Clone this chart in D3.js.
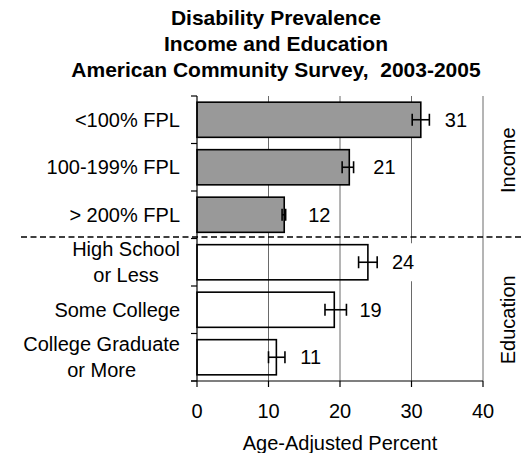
<!DOCTYPE html>
<html>
<head>
<meta charset="utf-8">
<script src="https://cdn.jsdelivr.net/npm/d3@7"></script>
<style>
  html, body { margin: 0; padding: 0; background: #fff; }
  svg { display: block; font-family: "Liberation Sans", Arial, sans-serif; }
</style>
</head>
<body>
<svg id="chart" width="521" height="453"></svg>
<script>
// ---- data ----
const titleLines = ["Disability Prevalence", "Income and Education", "American Community Survey,  2003-2005"];
const categories = ["<100% FPL", "100-199% FPL", "> 200% FPL", "High School\nor Less", "Some College", "College Graduate\nor More"];
const groups = ["Income", "Income", "Income", "Education", "Education", "Education"];
const groupNames = ["Income", "Education"];
const values = [31.3, 21.3, 12.2, 23.9, 19.2, 11.1];
const lowerCI = [30.1, 20.3, 11.9, 22.6, 17.9, 10.0];
const upperCI = [32.5, 21.9, 12.4, 25.2, 20.9, 12.3];
const valueLabels = ["31", "21", "12", "24", "19", "11"];
const xTicks = [0, 10, 20, 30, 40];
const xTitle = "Age-Adjusted Percent";

// ---- layout ----
const svg = d3.select("#chart");
const W = 521, H = 453;
const plot = { left: 197, right: 483, top: 96, bottom: 381 };

const x = d3.scaleLinear().domain([0, 40]).range([plot.left, plot.right]);
const y = d3.scaleBand().domain(categories).range([plot.top, plot.bottom])
  .paddingInner(0.26).paddingOuter(0.13);
const step = y.step();
const bandTop = c => y(c) - step * y.paddingInner() / 2;

const fillFor = { Income: "#999999", Education: "none" };
const groupLabelShift = { Income: -7, Education: 10 };

// title
svg.append("g").selectAll("text").data(titleLines).join("text")
  .attr("x", 276).attr("y", (d, i) => 25 + i * 26)
  .attr("text-anchor", "middle")
  .style("font-weight", "bold").style("font-size", "21px")
  .style("white-space", "pre")
  .text(d => d);

// gridlines
svg.append("g").selectAll("line").data(xTicks.filter(t => t > 0)).join("line")
  .attr("x1", d => x(d)).attr("x2", d => x(d))
  .attr("y1", plot.top).attr("y2", plot.bottom)
  .attr("stroke", "#6a6a6a").attr("stroke-width", 1);

// bars
const data = categories.map((c, i) => ({ c, g: groups[i], v: values[i], lo: lowerCI[i], hi: upperCI[i], lab: valueLabels[i] }));
svg.append("g").selectAll("rect").data(data).join("rect")
  .attr("x", x(0)).attr("y", d => y(d.c))
  .attr("width", d => x(d.v) - x(0)).attr("height", y.bandwidth())
  .attr("fill", d => fillFor[d.g])
  .attr("stroke", "#000").attr("stroke-width", 1.6);

// error bars
const eb = svg.append("g").attr("stroke", "#000").attr("stroke-width", 1.6);
data.forEach(d => {
  const cy = y(d.c) + y.bandwidth() / 2;
  eb.append("line").attr("x1", x(d.lo)).attr("x2", x(d.hi)).attr("y1", cy).attr("y2", cy);
  [d.lo, d.hi].forEach(v => eb.append("line").attr("x1", x(v)).attr("x2", x(v)).attr("y1", cy - 6).attr("y2", cy + 6));
});

// value labels with white boxes
const lg = svg.append("g");
data.forEach(d => {
  const cy = y(d.c) + y.bandwidth() / 2;
  const lx = Math.max(x(d.v) + 24, x(d.hi) + 13);
  const t = lg.append("text").attr("x", lx).attr("y", cy).attr("dy", "0.35em")
    .style("font-size", "20px").text(d.lab);
  const w = t.node().getComputedTextLength();
  lg.insert("rect", "text").attr("x", lx - 5).attr("y", cy - 19).attr("width", w + 10).attr("height", 38).attr("fill", "#fff");
});
lg.selectAll("text").raise();

// left axis
const ax = svg.append("g");
ax.append("line").attr("x1", plot.left).attr("x2", plot.left).attr("y1", plot.top).attr("y2", plot.bottom)
  .attr("stroke", "#000").attr("stroke-width", 1.2);
const bounds = categories.map(bandTop).concat([plot.bottom]);
ax.selectAll(".yt").data(bounds).join("line").attr("class", "yt")
  .attr("x1", plot.left - 6).attr("x2", plot.left).attr("y1", d => d).attr("y2", d => d)
  .attr("stroke", "#000").attr("stroke-width", 1.2);

// bottom axis
ax.append("line").attr("x1", plot.left - 6).attr("x2", plot.right).attr("y1", plot.bottom).attr("y2", plot.bottom)
  .attr("stroke", "#000").attr("stroke-width", 1.2);
ax.selectAll(".xt").data(xTicks).join("line").attr("class", "xt")
  .attr("x1", d => x(d)).attr("x2", d => x(d)).attr("y1", plot.bottom).attr("y2", plot.bottom + 6)
  .attr("stroke", "#000").attr("stroke-width", 1.2);
ax.selectAll(".xl").data(xTicks).join("text").attr("class", "xl")
  .attr("x", d => x(d)).attr("y", 418).attr("text-anchor", "middle")
  .style("font-size", "20px").text(d => d);
svg.append("text").attr("x", (plot.left + plot.right) / 2).attr("y", 450)
  .attr("text-anchor", "middle").style("font-size", "20px").text(xTitle);

// category labels
categories.forEach(c => {
  const lines = c.split("\n");
  const cy = y(c) + y.bandwidth() / 2;
  const g = svg.append("g");
  const ts = lines.map((l, i) => g.append("text")
    .attr("y", cy + (i - (lines.length - 1) / 2) * 26).attr("dy", "0.35em")
    .style("font-size", "20px").text(l));
  const maxW = d3.max(ts, t => t.node().getComputedTextLength());
  ts.forEach(t => t.attr("x", 180 - maxW / 2).attr("text-anchor", "middle"));
});

// dashed separator
const sepY = bandTop(categories[3]) - 1.5;
svg.append("line").attr("x1", 21).attr("x2", W).attr("y1", sepY).attr("y2", sepY)
  .attr("stroke", "#000").attr("stroke-width", 1.4).attr("stroke-dasharray", "6,3.5");

// group labels (right)
groupNames.forEach(gn => {
  const cats = categories.filter((c, i) => groups[i] === gn);
  const top = bandTop(cats[0]);
  const bot = bandTop(cats[cats.length - 1]) + step;
  const cy = (top + bot) / 2 + groupLabelShift[gn];
  svg.append("text").attr("transform", `translate(508,${cy}) rotate(-90)`)
    .attr("text-anchor", "middle").attr("dy", "0.35em")
    .style("font-size", "20px").text(gn);
});
</script>
</body>
</html>
